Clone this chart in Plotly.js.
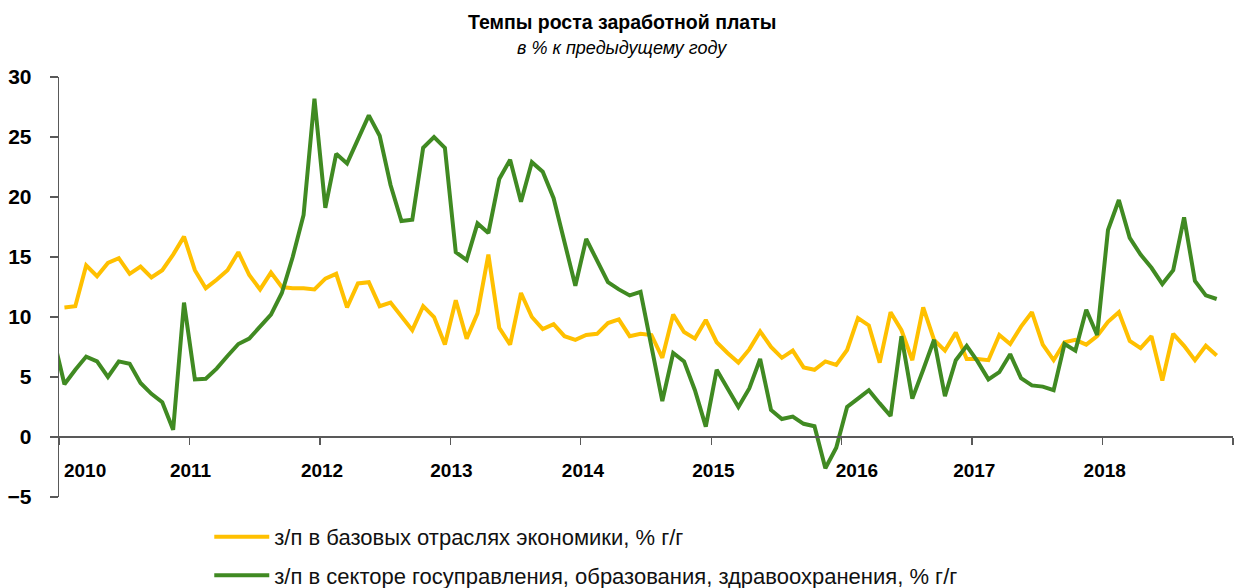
<!DOCTYPE html>
<html>
<head>
<meta charset="utf-8">
<script src="https://cdn.plot.ly/plotly-3.0.1.min.js"></script>
<style>html,body{margin:0;padding:0;background:#fff;}#chart{width:1234px;height:588px;}</style>
</head>
<body>
<div id="chart"></div>
<script>
// Monthly data, Jan 2010 .. Nov 2018 (yellow); green starts one month earlier (Dec 2009)
const startYear = 2010;
const yearLabels = ["2010","2011","2012","2013","2014","2015","2016","2017","2018"];
const yearLabelPos = [2.4, 12.1, 24.2, 36.1, 48.2, 60.2, 73.4, 84.2, 96.2];
const yearTicks = [0, 12, 24, 36, 48, 60, 72, 84, 96, 108];

const baseSectors = [
  10.8, 10.9, 14.3, 13.4, 14.5, 14.9, 13.6, 14.2, 13.3, 13.9, 15.2, 16.7,
  13.9, 12.4, 13.1, 13.9, 15.4, 13.5, 12.3, 13.7, 12.5, 12.4, 12.4, 12.3,
  13.2, 13.6, 10.8, 12.8, 12.9, 10.9, 11.2, 10.0, 8.9, 10.9, 10.0, 7.7,
  11.4, 8.2, 10.3, 15.2, 9.1, 7.7, 12.0, 10.0, 9.0, 9.4, 8.4, 8.1,
  8.5, 8.6, 9.5, 9.8, 8.4, 8.6, 8.5, 6.6, 10.2, 8.75, 8.2, 9.75,
  7.9, 7.0, 6.2, 7.3, 8.8, 7.5, 6.6, 7.2, 5.8, 5.6, 6.3, 6.0,
  7.25, 9.9, 9.3, 6.2, 10.4, 8.9, 6.4, 10.8, 8.1, 7.2, 8.7, 6.5,
  6.5, 6.4, 8.5, 7.75, 9.2, 10.4, 7.7, 6.4, 7.9, 8.1, 7.7, 8.4,
  9.6, 10.4, 8.0, 7.4, 8.4, 4.7, 8.6, 7.6, 6.4, 7.6, 6.8
];
const publicSector = [
  8.2,
  4.4, 5.6, 6.7, 6.3, 5.0, 6.3, 6.1, 4.5, 3.6, 2.9, 0.6, 11.2,
  4.8, 4.85, 5.7, 6.75, 7.75, 8.2, 9.2, 10.2, 12.0, 15.0, 18.5, 28.2,
  19.1, 23.6, 22.8, 24.75, 26.8, 25.1, 21.0, 18.0, 18.1, 24.1, 25.0, 24.1,
  15.4, 14.75, 17.8, 17.0, 21.5, 23.1, 19.6, 22.9, 22.1, 19.9, 16.2, 12.6,
  16.5, 14.7, 12.9, 12.3, 11.8, 12.1, 7.5, 3.0, 7.0, 6.3, 3.9, 0.86,
  5.6, 4.05, 2.5, 4.05, 6.5, 2.25, 1.5, 1.7, 1.1, 0.9, -2.6, -0.9,
  2.5, 3.2, 3.9, 2.8, 1.75, 8.4, 3.2, 5.6, 8.1, 3.4, 6.4, 7.6,
  6.3, 4.8, 5.4, 6.9, 4.9, 4.3, 4.2, 3.9, 7.75, 7.2, 10.6, 8.5,
  17.25, 19.75, 16.6, 15.2, 14.1, 12.75, 13.9, 18.3, 13.0, 11.8, 11.5
];
const publicStartOffset = -1; // first value is December 2009
const seriesNames = [
  "з/п в базовых отраслях экономики, % г/г",
  "з/п в секторе госуправления, образования, здравоохранения, % г/г"
];

// month index -> centre of month on a numeric axis (0 = start of 2010)
const xBase = baseSectors.map((_, i) => i + 0.5);
const xPublic = publicSector.map((_, i) => i + publicStartOffset + 0.5);

const yMin = -5, yMax = 30;
const FONT = "'Liberation Sans', Arial, sans-serif";

const traces = [
  {x: xBase, y: baseSectors, type: "scatter", mode: "lines", name: seriesNames[0],
   line: {color: "#FFC000", width: 4}, legendgroup: "a"},
  {x: xPublic, y: publicSector, type: "scatter", mode: "lines", name: seriesNames[1],
   line: {color: "#408A22", width: 4}, legendgroup: "b"}
];

const layout = {
  width: 1234, height: 588,
  margin: {l: 59, r: 1, t: 77, b: 91, autoexpand: false},
  paper_bgcolor: "#fff", plot_bgcolor: "#fff",
  font: {family: FONT, color: "#000"},
  showlegend: true,
  legend: {x: 0.128, xanchor: "left", y: -0.045, yanchor: "top", orientation: "v",
           font: {family: FONT, size: 22, color: "#111"}, tracegroupgap: 7,
           itemwidth: 55, bgcolor: "rgba(0,0,0,0)"},
  xaxis: {
    range: [0, 108], anchor: "free", position: (0 - yMin) / (yMax - yMin),
    showline: true, linecolor: "#595959", linewidth: 2,
    showgrid: false, zeroline: false,
    tickmode: "array", tickvals: yearLabelPos, ticktext: yearLabels,
    ticks: "", ticklabelstandoff: 16,
    tickfont: {family: FONT, size: 19, color: "#000", weight: "bold"},
    minor: {tickmode: "array", tickvals: yearTicks, ticks: "outside", ticklen: 7,
            tickcolor: "#595959", tickwidth: 1.3, showgrid: false}
  },
  yaxis: {
    range: [yMin, yMax], dtick: 5, tick0: 0,
    showline: true, linecolor: "#595959", linewidth: 1.3,
    ticks: "outside", ticklen: 8, tickcolor: "#595959", tickwidth: 1.3,
    showgrid: false, zeroline: false, ticklabelstandoff: 14,
    tickfont: {family: FONT, size: 21, color: "#000", weight: "bold"}
  },
  annotations: [
    {text: "<b>Темпы роста заработной платы</b>", xref: "paper", yref: "paper",
     x: 0.4796, y: 1 + (77 - 22) / 420, xanchor: "center", yanchor: "middle", showarrow: false,
     font: {family: FONT, size: 19.5, color: "#000"}},
    {text: "<i>в % к предыдущему году</i>", xref: "paper", yref: "paper",
     x: 0.4796, y: 1 + (77 - 48) / 420, xanchor: "center", yanchor: "middle", showarrow: false,
     font: {family: FONT, size: 18, color: "#000"}}
  ]
};

Plotly.newPlot("chart", traces, layout, {displayModeBar: false, staticPlot: true});
</script>
</body>
</html>
